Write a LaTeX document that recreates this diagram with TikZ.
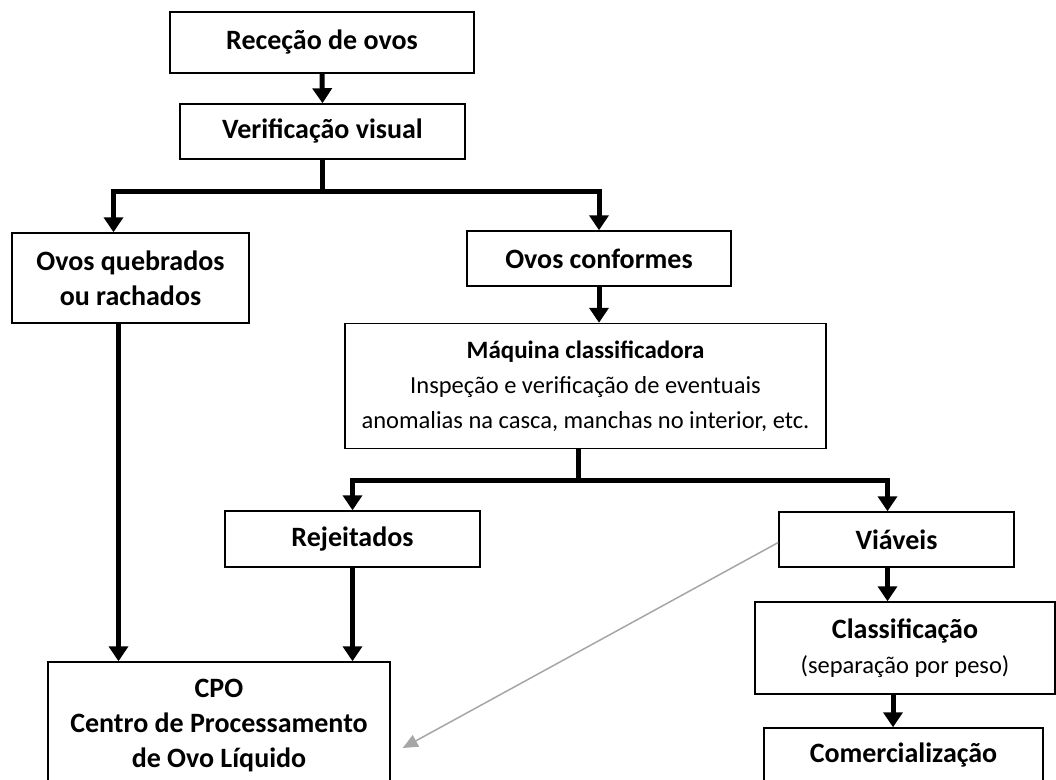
\documentclass[tikz,border=0pt]{standalone}
\usepackage{fontspec}
\setmainfont{Carlito}
\usepackage{tikz}
\usetikzlibrary{positioning,arrows.meta,calc}
\newcommand{\boxfont}{\fontsize{24.5}{35}\selectfont}
\newcommand{\hd}{\fontsize{28}{35}\selectfont\bfseries}

\begin{document}
\begin{tikzpicture}[x=1pt,y=-1pt,
    box/.style={draw, line width=1.5pt, inner sep=0pt, align=center, font=\boxfont},
    head/.style={box, font=\hd},
    flow/.style={line width=5pt, -{Triangle[width=19pt,length=15pt]}},
    stem/.style={line width=5pt}]
            \clip (0,0) rectangle (1056,779);
            \node[head, minimum width=304, minimum height=61] (recep) at (322,42.5) {Receção de ovos};
            \node[head, minimum width=285, minimum height=55] (verif) at (322.5,131.5) {Verificação visual};
            \node[head, minimum width=237, minimum height=90] (quebr) at (130.5,278) {Ovos quebrados\\ou rachados};
            \node[head, minimum width=264, minimum height=55] (conf) at (599,258.5) {Ovos conformes};
            \node[box, minimum width=481, minimum height=125] (maq) at (585.5,386) {{\fontsize{25}{35}\selectfont\bfseries Máquina classificadora}\\Inspeção e verificação de eventuais\\anomalias na casca, manchas no interior, etc.};
            \node[head, minimum width=255, minimum height=56] (rej) at (352.5,539) {Rejeitados};
            \node[head, minimum width=235, minimum height=55] (viav) at (896.5,539.5) {Viáveis};
            \node[box, minimum width=300, minimum height=92] (clas) at (905,648) {{\hd Classificação}\\(separação por peso)};
            \node[head, minimum width=279, minimum height=54] (comer) at (903.5,755) {Comercialização};
            \node[head, minimum width=342, minimum height=128] (cpo) at (219,726) {CPO\\Centro de Processamento\\de Ovo Líquido};
            \draw[flow] (recep.south) -- (verif.north);
            \draw[stem] (verif.south) -- ++(0,32) coordinate (split1);
            \draw[flow] (split1) -| ([xshift=-17]quebr.north);
            \draw[flow] (split1) -| (conf.north);
            \draw[flow] ([xshift=-12]quebr.south) -- ([xshift=-12]quebr.south |- cpo.north);
            \draw[flow] (conf.south) -- (conf.south |- maq.north);
            \draw[stem] ([xshift=-7]maq.south) -- ++(0,31) coordinate (split2);
            \draw[flow] (split2) -| (rej.north);
            \draw[flow] (split2) -| ([xshift=-9]viav.north);
            \draw[flow] (rej.south) -- (rej.south |- cpo.north);
            \draw[flow] ([xshift=-9]viav.south) -- ([xshift=-9]viav.south |- clas.north);
            \draw[flow] ([xshift=-12]clas.south) -- ([xshift=-12]clas.south |- comer.north);
            \draw[gray!70, line width=1.5pt, -{Triangle[width=13pt,length=15pt]}] ([yshift=-3]viav.west) -- ([shift={(12,22)}]cpo.east);
        \end{tikzpicture}
\end{document}
